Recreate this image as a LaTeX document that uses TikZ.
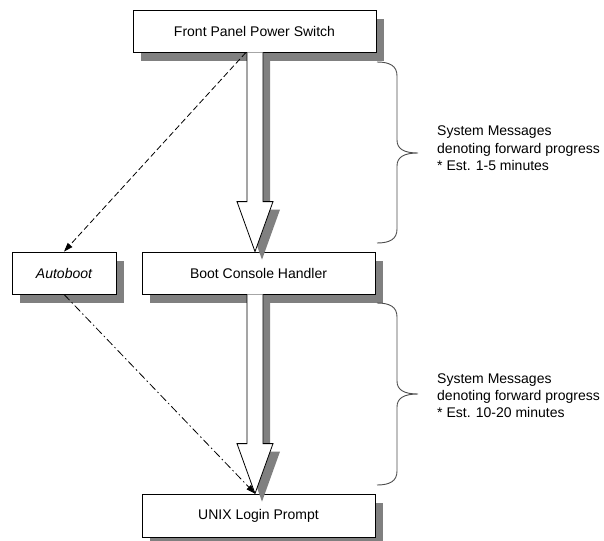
\documentclass[tikz,border=0pt]{standalone}
\usepackage{fontspec}
\setmainfont{Liberation Sans}
\usetikzlibrary{arrows.meta,shadows,calc}

\begin{document}
\begin{tikzpicture}[x=1pt,y=-1pt,
    stage/.style={draw, fill=white, line width=0.8pt, inner sep=0pt, minimum height=42pt,
        font=\fontsize{14}{17}\selectfont,
        drop shadow={shadow xshift=8pt, shadow yshift=-9pt, fill=black!50, opacity=1}},
    bigarrow/.style={draw, fill=white, line width=0.8pt,
        drop shadow={shadow xshift=7pt, shadow yshift=-8pt, fill=black!50, opacity=1}},
    bootline/.style={line width=0.8pt, dash pattern=on 6pt off 3pt, -{Triangle[length=9pt,width=6pt]}},
    loginline/.style={line width=0.8pt, dash pattern=on 8pt off 3pt on 1.5pt off 3pt, -{Triangle[length=9pt,width=6pt]}},
    bracket/.style={draw=black!70, line width=0.9pt},
    note/.style={anchor=base west, align=left, inner sep=0pt, font=\fontsize{14}{17}\selectfont}]

    \useasboundingbox (0,0) rectangle (604,540);

    % boxes
    \node[stage, minimum width=243pt] (front) at (254.5,31) {Front Panel Power Switch};
    \node[stage, minimum width=104pt, font=\fontsize{14}{17}\selectfont\itshape] (autoboot) at (64,273) {Autoboot};
    \node[stage, minimum width=233pt] (boot) at (258.5,273) {Boot Console Handler};
    \node[stage, minimum width=233pt, minimum height=43pt] (unix) at (258.5,515.5) {UNIX Login Prompt};

    % block arrows
    \foreach \a/\b in {front/boot, boot/unix}
        \filldraw[bigarrow] (\a.south -| 247,0) -- ($(\b.north -| 247,0)+(0,-50)$)
            -- ($(\b.north -| 237,0)+(0,-50)$) -- (\b.north -| 255,0)
            -- ($(\b.north -| 273,0)+(0,-50)$) -- ($(\b.north -| 263,0)+(0,-50)$)
            -- (\a.south -| 263,0);

    % autoboot path
    \draw[bootline] (front.south -| 246,0) -- (autoboot.north);
    \draw[loginline] (autoboot.south) -- (unix.north -| 255,0);

    % braces
    \foreach \t/\m/\b in {62/153/243, 303/394/485}
        \draw[bracket] (377,\t) .. controls (390,\t) and (397,\t+4) .. (397,\t+14)
            -- (397,\m-13) .. controls (397,\m-4) and (404,\m) .. (418,\m)
            .. controls (404,\m) and (397,\m+4) .. (397,\m+13)
            -- (397,\b-14) .. controls (397,\b-4) and (390,\b) .. (377,\b);

    \node[note] (msgA) at (437,170) {System Messages\\denoting forward progress\\* Est. 1-5 minutes};
    \node[note] (msgB) at (437,417) {System Messages\\denoting forward progress\\* Est. 10-20 minutes};
\end{tikzpicture}
\end{document}
